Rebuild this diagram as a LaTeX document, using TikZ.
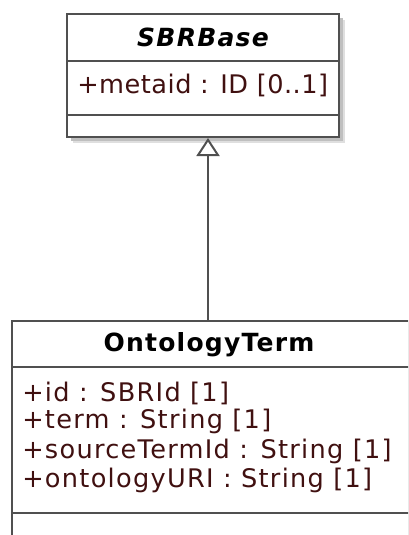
\documentclass[tikz,border=0pt]{standalone}
\usepackage{fontspec}
\setmainfont{DejaVu Sans}[LetterSpace=5]
\usetikzlibrary{arrows.meta}
\definecolor{attrtext}{RGB}{64,16,16}
\definecolor{umlline}{RGB}{80,80,80}
\tikzset{
  classpart/.style={draw=umlline, line width=1.5pt, fill=white, inner sep=0pt},
  classname/.style={font=\fontsize{18.75}{22}\selectfont\bfseries, inner sep=0pt},
  attr/.style={font=\fontsize{19.2}{22}\selectfont, text=attrtext, anchor=west, inner sep=0pt},
  inherit/.style={draw=umlline, line width=1.5pt,
    -{Triangle[open, length=13.5pt, width=17.25pt, fill=white]}},
}
\begin{document}
\begin{tikzpicture}[x=0.75pt,y=-0.75pt]
    \useasboundingbox (0,0) rectangle (408,535);
    \clip (0,0) rectangle (408,535);

    % SBRBase
    \fill[gray!25] (73,20) rectangle (345,143);
    \fill[gray!50] (71,18) rectangle (343,141);
    \node[classpart, minimum width=204pt, minimum height=35.25pt] (base-name) at (203,37.5) {};
    \node[classpart, minimum width=204pt, minimum height=40.5pt] (base-attrs) at (203,88) {};
    \node[classpart, minimum width=204pt, minimum height=16.5pt] (base-ops) at (203,126) {};
    \node[classname] (base-title) at (203,37) {\itshape SBRBase};
    \node[attr] (base-metaid) at (77,85) {\addfontfeature{LetterSpace=2}+metaid : ID [0..1]};

    % OntologyTerm
    \node[classpart, minimum width=297.75pt, minimum height=34.5pt] (term-name) at (210.5,344) {};
    \node[classpart, minimum width=297.75pt, minimum height=109.5pt] (term-attrs) at (210.5,440) {};
    \node[classpart, minimum width=297.75pt, minimum height=35.25pt] (term-ops) at (210.5,536.5) {};
    \node[classname] (term-title) at (209,345) {OntologyTerm};
    \node[attr] (term-id) at (22,393) {+id : SBRId [1]};
    \node[attr] (term-term) at (22,421.5) {+term : String [1]};
    \node[attr] (term-source) at (22,451) {+sourceTermId : String [1]};
    \node[attr] (term-uri) at (22,480) {+ontologyURI : String [1]};

    % generalisation
    \coordinate (gen) at (208,321);
    \draw[inherit] (gen) -- (gen |- base-ops.south);
\end{tikzpicture}
\end{document}
